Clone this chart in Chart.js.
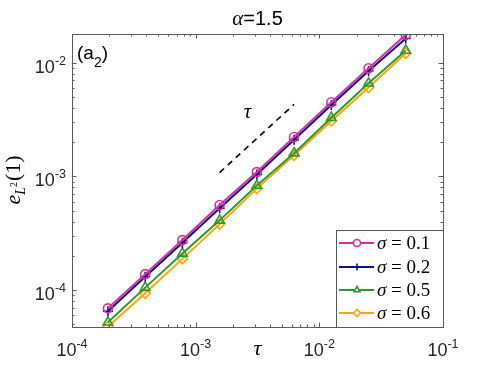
<!DOCTYPE html>
<html>
<head>
<meta charset="utf-8">
<script src="https://cdn.jsdelivr.net/npm/chart.js@4"></script>
<style>
  html, body { margin: 0; padding: 0; background: #fff; }
  canvas { display: block; }
</style>
</head>
<body>
<canvas id="errChart" width="490" height="368"></canvas>
<script>
// time steps tau and L2 errors at t=1, one array per sigma
const tau = [1.953125e-4, 3.90625e-4, 7.8125e-4, 1.5625e-3, 3.125e-3, 6.25e-3, 1.25e-2, 2.5e-2, 5e-2];
const errSigma01 = [6.9e-5, 1.38e-4, 2.75e-4, 5.6e-4, 1.09e-3, 2.22e-3, 4.48e-3, 8.93e-3, 1.76e-2];
const errSigma02 = [6.5e-5, 1.31e-4, 2.61e-4, 5.24e-4, 1.04e-3, 2.1e-3, 4.25e-3, 8.45e-3, 1.63e-2];
const errSigma05 = [5.2e-5, 1.05e-4, 2.1e-4, 4.1e-4, 8.3e-4, 1.6e-3, 3.28e-3, 6.59e-3, 1.28e-2];
const errSigma06 = [4.75e-5, 9.35e-5, 1.88e-4, 3.8e-4, 7.8e-4, 1.53e-3, 3.07e-3, 6.04e-3, 1.21e-2];
const sigmaLabels = ["0.1", "0.2", "0.5", "0.6"];

// slope-1 guide line
const refX = [1.5625e-3, 6.25e-3];
const refY = [1.08e-3, 4.3e-3];

const xTickExps = [-4, -3, -2, -1];
const yTickExps = [-4, -3, -2];

const colors = ["#d6309d", "#10108a", "#2e9a2e", "#ffa500"];
const styles = ["circle", "cross", "triangle", "rectRot"];
const radii = [4.5, 5, 5.5, 5];

function pts(xs, ys) {
  return xs.map((x, i) => ({ x: x, y: ys[i] }));
}

const series = [errSigma01, errSigma02, errSigma05, errSigma06];
const datasets = series.map((ys, i) => ({
  label: "sigma = " + sigmaLabels[i],
  data: pts(tau, ys),
  showLine: true,
  borderColor: colors[i],
  backgroundColor: "rgba(0,0,0,0)",
  borderWidth: 2,
  pointStyle: styles[i],
  pointRadius: radii[i],
  pointBorderWidth: 1.6,
  pointBorderColor: colors[i],
  pointBackgroundColor: "rgba(255,255,255,0)",
}));
datasets.push({
  label: "ref",
  data: pts(refX, refY),
  showLine: true,
  borderColor: "#000",
  borderWidth: 1.6,
  borderDash: [6, 5],
  pointRadius: 0,
});

const SANS = "'Liberation Sans', Arial, sans-serif";
const SERIF = "'Liberation Serif', 'Times New Roman', serif";

// 10^e label drawn with a real superscript
function drawPow(ctx, e, x, y, align) {
  const base = "10";
  const ex = e < 0 ? "-" + Math.abs(e) : String(e);
  ctx.font = "18px " + SANS;
  const wb = ctx.measureText(base).width;
  ctx.font = "12.5px " + SANS;
  const we = ctx.measureText(ex).width;
  let left = align === "right" ? x - wb - we : x - (wb + we) / 2;
  ctx.textAlign = "left";
  ctx.textBaseline = "alphabetic";
  ctx.font = "18px " + SANS;
  ctx.fillText(base, left, y);
  ctx.font = "12.5px " + SANS;
  ctx.fillText(ex, left + wb, y - 8);
}

const decorations = {
  id: "decorations",
  afterDatasetsDraw(chart) {
    const ctx = chart.ctx;
    const a = chart.chartArea;
    const xs = chart.scales.x, ys = chart.scales.y;
    ctx.save();

    // axes box
    ctx.strokeStyle = "#5a5a5a";
    ctx.lineWidth = 1;
    ctx.strokeRect(Math.round(a.left) + 0.5, Math.round(a.top) + 0.5,
      Math.round(a.right - a.left), Math.round(a.bottom - a.top));

    // inward ticks on all four sides
    function logTicks(scale, cb) {
      const lo = Math.floor(Math.log10(scale.min)), hi = Math.ceil(Math.log10(scale.max));
      for (let e = lo; e <= hi; e++) {
        for (let d = 1; d <= 9; d++) {
          const v = d * Math.pow(10, e);
          if (v < scale.min * 0.999 || v > scale.max * 1.001) continue;
          cb(scale.getPixelForValue(v), d === 1);
        }
      }
    }
    ctx.beginPath();
    logTicks(xs, (px, major) => {
      const len = major ? 4.5 : 2.5;
      px = Math.round(px) + 0.5;
      ctx.moveTo(px, a.bottom); ctx.lineTo(px, a.bottom - len);
      ctx.moveTo(px, a.top); ctx.lineTo(px, a.top + len);
    });
    logTicks(ys, (py, major) => {
      const len = major ? 4.5 : 2.5;
      py = Math.round(py) + 0.5;
      ctx.moveTo(a.left, py); ctx.lineTo(a.left + len, py);
      ctx.moveTo(a.right, py); ctx.lineTo(a.right - len, py);
    });
    ctx.stroke();

    // tick labels
    ctx.fillStyle = "#262626";
    xTickExps.forEach(e => drawPow(ctx, e, xs.getPixelForValue(Math.pow(10, e)), 356, "center"));
    yTickExps.forEach(e => drawPow(ctx, e, 66, ys.getPixelForValue(Math.pow(10, e)) + 10, "right"));

    // title
    ctx.fillStyle = "#000";
    ctx.font = "italic 21px " + SERIF;
    const tA = "\u03b1";
    const wA = ctx.measureText(tA).width;
    ctx.font = "20px " + SANS;
    const tR = "=1.5";
    const wR = ctx.measureText(tR).width;
    const cx = (a.left + a.right) / 2;
    let tx = cx - (wA + wR) / 2;
    ctx.textAlign = "left";
    ctx.font = "italic 21px " + SERIF;
    ctx.fillText(tA, tx, 25);
    ctx.font = "20px " + SANS;
    ctx.fillText(tR, tx + wA, 25);

    // x label
    ctx.font = "italic 22px " + SERIF;
    ctx.textAlign = "center";
    ctx.fillText("\u03c4", cx, 355);

    // panel tag (a2)
    ctx.textAlign = "left";
    ctx.font = "19px " + SANS;
    let px0 = 77;
    ctx.fillText("(a", px0, 59);
    px0 += ctx.measureText("(a").width;
    ctx.font = "14px " + SANS;
    ctx.fillText("2", px0, 67);
    px0 += ctx.measureText("2").width;
    ctx.font = "19px " + SANS;
    ctx.fillText(")", px0, 59);

    // slope label
    ctx.font = "italic 21px " + SERIF;
    ctx.textAlign = "center";
    ctx.fillText("\u03c4", xs.getPixelForValue(2.62e-3), ys.getPixelForValue(3.24e-3));

    // y label e_{L^2}(1), rotated
    ctx.save();
    ctx.translate(20, (a.top + a.bottom) / 2);
    ctx.rotate(-Math.PI / 2);
    ctx.textAlign = "left";
    const parts = [
      { t: "e", f: "italic 22px " + SERIF, dy: 0 },
      { t: "L", f: "italic 14px " + SERIF, dy: 5 },
      { t: "2", f: "10px " + SERIF, dy: -3 },
      { t: "(1)", f: "22px " + SERIF, dy: 0 },
    ];
    let total = 0;
    parts.forEach(p => { ctx.font = p.f; p.w = ctx.measureText(p.t).width; total += p.w; });
    let lx = -total / 2;
    parts.forEach(p => { ctx.font = p.f; ctx.fillText(p.t, lx, p.dy); lx += p.w + (p.t === "2" ? 1 : 0); });
    ctx.restore();

    // legend
    const lg = { x: 336, y: 230, w: 107, h: 97 };
    ctx.fillStyle = "#fff";
    ctx.fillRect(lg.x, lg.y, lg.w, lg.h);
    ctx.strokeStyle = "#5a5a5a";
    ctx.lineWidth = 1;
    ctx.strokeRect(lg.x + 0.5, lg.y + 0.5, lg.w, lg.h);
    const rowY = [243, 267, 290, 313];
    for (let i = 0; i < 4; i++) {
      const y = rowY[i];
      ctx.strokeStyle = colors[i];
      ctx.lineWidth = 2;
      ctx.beginPath();
      ctx.moveTo(339, y); ctx.lineTo(374, y);
      ctx.stroke();
      ctx.lineWidth = 1.6;
      ctx.fillStyle = "#fff";
      Chart.helpers.drawPoint(ctx, { pointStyle: styles[i], radius: 3.5, borderWidth: 1.6, rotation: 0 }, 357, y);
      ctx.fillStyle = "#000";
      ctx.textAlign = "left";
      ctx.textBaseline = "alphabetic";
      ctx.font = "italic 19px " + SERIF;
      ctx.fillText("\u03c3", 377, y + 6);
      const ws = ctx.measureText("\u03c3").width;
      ctx.font = "19px " + SERIF;
      ctx.fillText(" = " + sigmaLabels[i], 377 + ws, y + 6);
    }

    ctx.restore();
  }
};

new Chart(document.getElementById("errChart").getContext("2d"), {
  type: "scatter",
  data: { datasets: datasets },
  options: {
    responsive: false,
    animation: false,
    devicePixelRatio: 1,
    layout: { padding: { top: 34, right: 47, left: 0, bottom: 0 } },
    plugins: {
      legend: { display: false },
      tooltip: { enabled: false },
    },
    scales: {
      x: {
        type: "logarithmic",
        min: 1e-4,
        max: 1e-1,
        ticks: { display: false },
        grid: { display: false },
        border: { display: false },
        afterFit: s => { s.height = 41; },
      },
      y: {
        type: "logarithmic",
        min: 4.73e-5,
        max: 1.787e-2,
        ticks: { display: false },
        grid: { display: false },
        border: { display: false },
        afterFit: s => { s.width = 72; },
      },
    },
  },
  plugins: [decorations],
});
</script>
</body>
</html>
